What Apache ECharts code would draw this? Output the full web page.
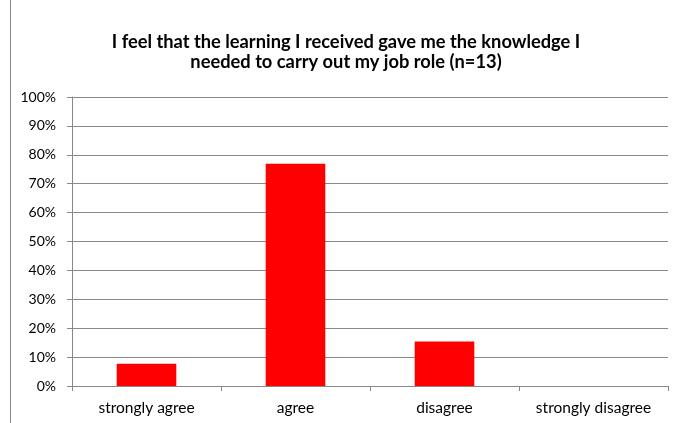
<!DOCTYPE html>
<html>
<head>
<meta charset="utf-8">
<script src="https://cdn.jsdelivr.net/npm/echarts@6/dist/echarts.min.js"></script>
<style>
  html, body { margin: 0; padding: 0; background: #fff; }
  #chart { width: 677px; height: 423px; }
</style>
</head>
<body>
<div id="chart"></div>
<script>
// Survey responses (n=13), share of respondents per answer
const categories = ['strongly agree', 'agree', 'disagree', 'strongly disagree'];
const shares = [7.69, 76.92, 15.38, 0];
const titleLines = ['I feel that the learning I received gave me the knowledge I', 'needed to carry out my job role (n=13)'];

const FONT = 'Lato, "Open Sans", sans-serif';
const chart = echarts.init(document.getElementById('chart'), null, { renderer: 'canvas' });

chart.setOption({
  animation: false,
  backgroundColor: '#ffffff',
  title: {
    text: titleLines.join('\n'),
    left: 341,
    textAlign: 'center',
    top: 27,
    textStyle: {
      fontFamily: FONT,
      fontWeight: 'bold',
      fontSize: 18.3,
      lineHeight: 20,
      color: '#000'
    }
  },
  graphic: [{
    type: 'line',
    shape: { x1: 10.5, y1: 0, x2: 10.5, y2: 423 },
    style: { stroke: '#888', lineWidth: 1 }
  }],
  grid: { left: 72, right: 9, top: 97, bottom: 37, containLabel: false },
  xAxis: {
    type: 'category',
    data: categories,
    axisLine: { lineStyle: { color: '#888', width: 1 } },
    axisTick: { show: true, length: 5, inside: false, lineStyle: { color: '#888' } },
    axisLabel: { interval: 0, hideOverlap: false, fontFamily: FONT, fontSize: 15.5, color: '#000', margin: 14 }
  },
  yAxis: {
    type: 'value',
    min: 0,
    max: 100,
    interval: 10,
    axisLine: { show: true, lineStyle: { color: '#888', width: 1 } },
    axisTick: { show: true, length: 5, lineStyle: { color: '#888' } },
    splitLine: { lineStyle: { color: '#888', width: 1 } },
    axisLabel: { fontFamily: FONT, fontSize: 14, color: '#000', margin: 16, formatter: '{value}%' }
  },
  series: [{
    type: 'bar',
    data: shares,
    barWidth: '40%',
    itemStyle: { color: '#ff0000' }
  }]
});
</script>
</body>
</html>
